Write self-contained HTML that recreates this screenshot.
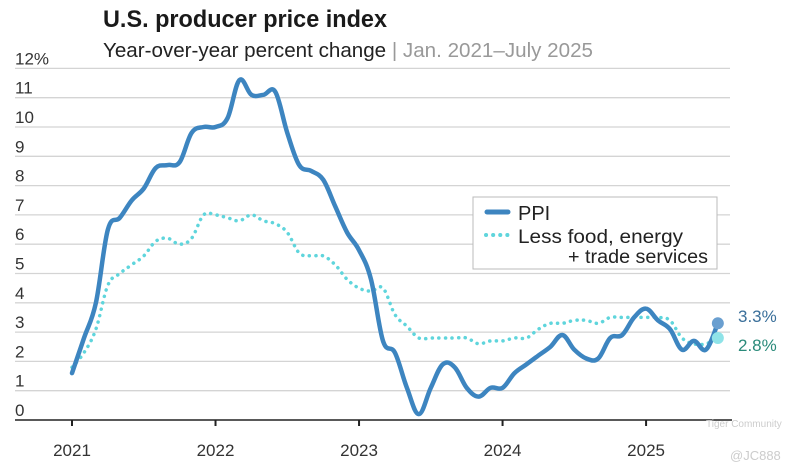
<!DOCTYPE html>
<html><head><meta charset="utf-8"><style>
body{margin:0;background:#fff;width:798px;height:471px;overflow:hidden}
svg{display:block;font-family:"Liberation Sans",Arial,sans-serif}
</style></head><body>
<svg width="798" height="471" viewBox="0 0 798 471">
<text x="103" y="27" font-size="24" font-weight="bold" fill="#1a1a1a" textLength="284" lengthAdjust="spacingAndGlyphs">U.S. producer price index</text>
<text x="103" y="57" font-size="20" fill="#222" textLength="490" lengthAdjust="spacingAndGlyphs">Year-over-year percent change <tspan fill="#999">| Jan. 2021–July 2025</tspan></text>
<g id="grid"></g><g id="ylabels"></g><g id="xaxis"></g><g id="series"></g>
<g>
<rect x="473" y="197" width="244" height="72" fill="#fff" stroke="#bbb" stroke-width="1"/>
<line x1="487" y1="212" x2="508" y2="212" stroke="#3d85c0" stroke-width="5" stroke-linecap="round"/>
<text x="518" y="220" font-size="20" fill="#222">PPI</text>
<line x1="486" y1="235" x2="510" y2="235" stroke="#5fd5dc" stroke-width="4" stroke-linecap="round" stroke-dasharray="0.1 7"/>
<text x="518" y="243" font-size="19" fill="#222" textLength="165" lengthAdjust="spacingAndGlyphs">Less food, energy</text>
<text x="568" y="263" font-size="19" fill="#222" textLength="140" lengthAdjust="spacingAndGlyphs">+ trade services</text>
</g>
<text x="738" y="322" font-size="17" fill="#3a6f9a">3.3%</text>
<text x="738" y="351" font-size="17" fill="#2a8a7a">2.8%</text>
<text x="706" y="427" font-size="10" fill="#ccc">Tiger Community</text>
<text x="730" y="460" font-size="13" fill="#ccc">@JC888</text>
</svg>
<script>
const yTicks=[0,1,2,3,4,5,6,7,8,9,10,11,12];
const years=["2021","2022","2023","2024","2025"];
const ppi=[1.6,2.8,4.0,6.5,6.9,7.5,7.9,8.6,8.7,8.8,9.8,10.0,
10.0,10.3,11.6,11.1,11.1,11.2,9.8,8.7,8.5,8.2,7.3,6.4,
5.8,4.8,2.7,2.3,1.1,0.2,1.1,1.9,1.8,1.1,0.8,1.1,
1.1,1.6,1.9,2.2,2.5,2.9,2.4,2.1,2.1,2.8,2.9,3.5,
3.8,3.4,3.1,2.4,2.7,2.4,3.3];
const core=[1.8,2.3,3.1,4.6,5.0,5.3,5.6,6.1,6.2,6.0,6.2,7.0,
7.0,6.9,6.8,7.0,6.8,6.7,6.4,5.7,5.6,5.6,5.3,4.8,
4.5,4.4,4.5,3.6,3.2,2.8,2.8,2.8,2.8,2.8,2.6,2.7,
2.7,2.8,2.8,3.1,3.3,3.3,3.4,3.4,3.3,3.5,3.5,3.5,
3.5,3.5,3.4,2.8,2.6,2.6,2.8];
const NS="http://www.w3.org/2000/svg";
const y=v=>420-29.3*v;
const x=i=>72+i*11.96;
function mk(t,a,p){const e=document.createElementNS(NS,t);for(const k in a)e.setAttribute(k,a[k]);p.appendChild(e);return e;}
const g=document.getElementById('grid'),yl=document.getElementById('ylabels'),xa=document.getElementById('xaxis'),s=document.getElementById('series');
yTicks.forEach(v=>{
 if(v>0){const l=mk('line',{x1:15,x2:730,y1:y(v),y2:y(v),stroke:'#d4d4d4','stroke-width':1.3},g);
 
 }
 const t=mk('text',{x:15,y:y(v)-4,'font-size':17,fill:'#333'},yl);
 t.textContent=v+(v===12?'%':'');
 
 
});
const ax=mk('line',{x1:15,x2:732,y1:420,y2:420,stroke:'#222','stroke-width':1.5},xa);


years.forEach((yr,k)=>{
 const px=x(k*12);
 mk('line',{x1:px,x2:px,y1:420,y2:426,stroke:'#222','stroke-width':2},xa);
 const t=mk('text',{x:px,y:456,'font-size':17,fill:'#333','text-anchor':'middle'},xa);
 t.textContent=yr;
 
 
});
function smooth(a){
 const P=a.map((v,i)=>[x(i),y(v)]);
 let d='M'+P[0][0].toFixed(1)+','+P[0][1].toFixed(1);
 const t=0.18;
 for(let i=0;i<P.length-1;i++){
  const p0=P[Math.max(0,i-1)],p1=P[i],p2=P[i+1],p3=P[Math.min(P.length-1,i+2)];
  const c1=[p1[0]+(p2[0]-p0[0])*t,p1[1]+(p2[1]-p0[1])*t];
  const c2=[p2[0]-(p3[0]-p1[0])*t,p2[1]-(p3[1]-p1[1])*t];
  d+=' C'+c1.map(n=>n.toFixed(1))+' '+c2.map(n=>n.toFixed(1))+' '+p2.map(n=>n.toFixed(1));
 }
 return d;
}
const c=mk('path',{d:smooth(core),fill:'none',stroke:'#5fd5dc','stroke-width':3.5,'stroke-linecap':'round','stroke-dasharray':'0.1 6.5'},s);


const p=mk('path',{d:smooth(ppi),fill:'none',stroke:'#3d85c0','stroke-width':4.5,'stroke-linejoin':'round','stroke-linecap':'round'},s);


const n=ppi.length-1;
const d2=mk('circle',{cx:x(n),cy:y(core[n]),r:6,fill:'#8fe3e8'},s);


const d1=mk('circle',{cx:x(n),cy:y(ppi[n]),r:6,fill:'#6a9fd0'},s);


</script>
</body></html>
